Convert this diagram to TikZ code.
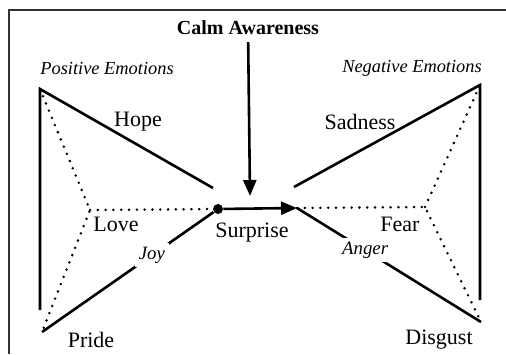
\documentclass[tikz,border=0pt]{standalone}
\usepackage{fontspec}
\setmainfont{Liberation Serif}
\usetikzlibrary{arrows.meta}

\begin{document}
\begin{tikzpicture}[
    x=0.5pt, y=-0.5pt,
    every node/.style={font=\fontsize{11}{13}\selectfont},
    edge/.style={line width=1.3pt},
    trail/.style={line width=1.4pt, line cap=round, dash pattern=on 0pt off 3.9pt},
    flow/.style={line width=1.3pt, -{Triangle[length=8pt, width=6.5pt]}},
    group/.style={font=\fontsize{9.2}{11}\selectfont\itshape},
    tag/.style={font=\fontsize{9.4}{11}\selectfont\itshape, fill=white, inner sep=2pt},
    hubdot/.style={circle, fill, inner sep=0pt, minimum size=5pt}]

  \useasboundingbox (0,0) rectangle (506,354);
  \draw[line width=0.75pt, black!80] (506,10) -- (9,10) -- (9,354);

  % corners of the two wings
  \coordinate (pos)     at (40,89);
  \coordinate (posbot)  at (40,310);
  \coordinate (pride)   at (42,332);
  \coordinate (love)    at (90,210);
  \coordinate (hopeend) at (213,188);
  \coordinate (neg)     at (480,85);
  \coordinate (negbot)  at (480,300);
  \coordinate (disgust) at (481,322);
  \coordinate (fear)    at (425,207);
  \coordinate (sadend)  at (294,187);
  \coordinate (tip)     at (297,208);
  \coordinate (drop)    at (250,196);

  \node[hubdot] (hub) at (218,209) {};

  \node[font=\fontsize{10}{12}\selectfont\bfseries] (calm) at (248,28) {Calm Awareness};
  \node[group] (poslbl) at (107,68) {Positive Emotions};
  \node[group] (neglbl) at (412,68) {Negative Emotions};

  \node (hope)       at (138,122) {Hope};
  \node (sadness)    at (360,122) {Sadness};
  \node (lovelbl)    at (116,224) {Love};
  \node (surprise)   at (252,233) {Surprise};
  \node (fearlbl)    at (400,224) {Fear};
  \node (pridelbl)   at (91,340)  {Pride};
  \node (disgustlbl) at (439,340) {Disgust};

  \draw[edge] (posbot) -- (pos) -- (hopeend);
  \draw[edge] (negbot) -- (neg) -- (sadend);

  \draw[trail] (pos) -- (love) -- (pride);
  \draw[trail] (love) -- (hub);
  \draw[trail] (tip) -- (fear) -- (disgust);
  \draw[trail] (fear) -- (neg);

  \draw[edge] (hub) -- node[tag, pos=0.36]{Joy} (pride);
  \draw[edge] (tip) -- node[tag, pos=0.37]{Anger} (disgust);

  \draw[flow] (calm) -- (drop);
  \draw[flow] (hub) -- (tip);
\end{tikzpicture}
\end{document}
